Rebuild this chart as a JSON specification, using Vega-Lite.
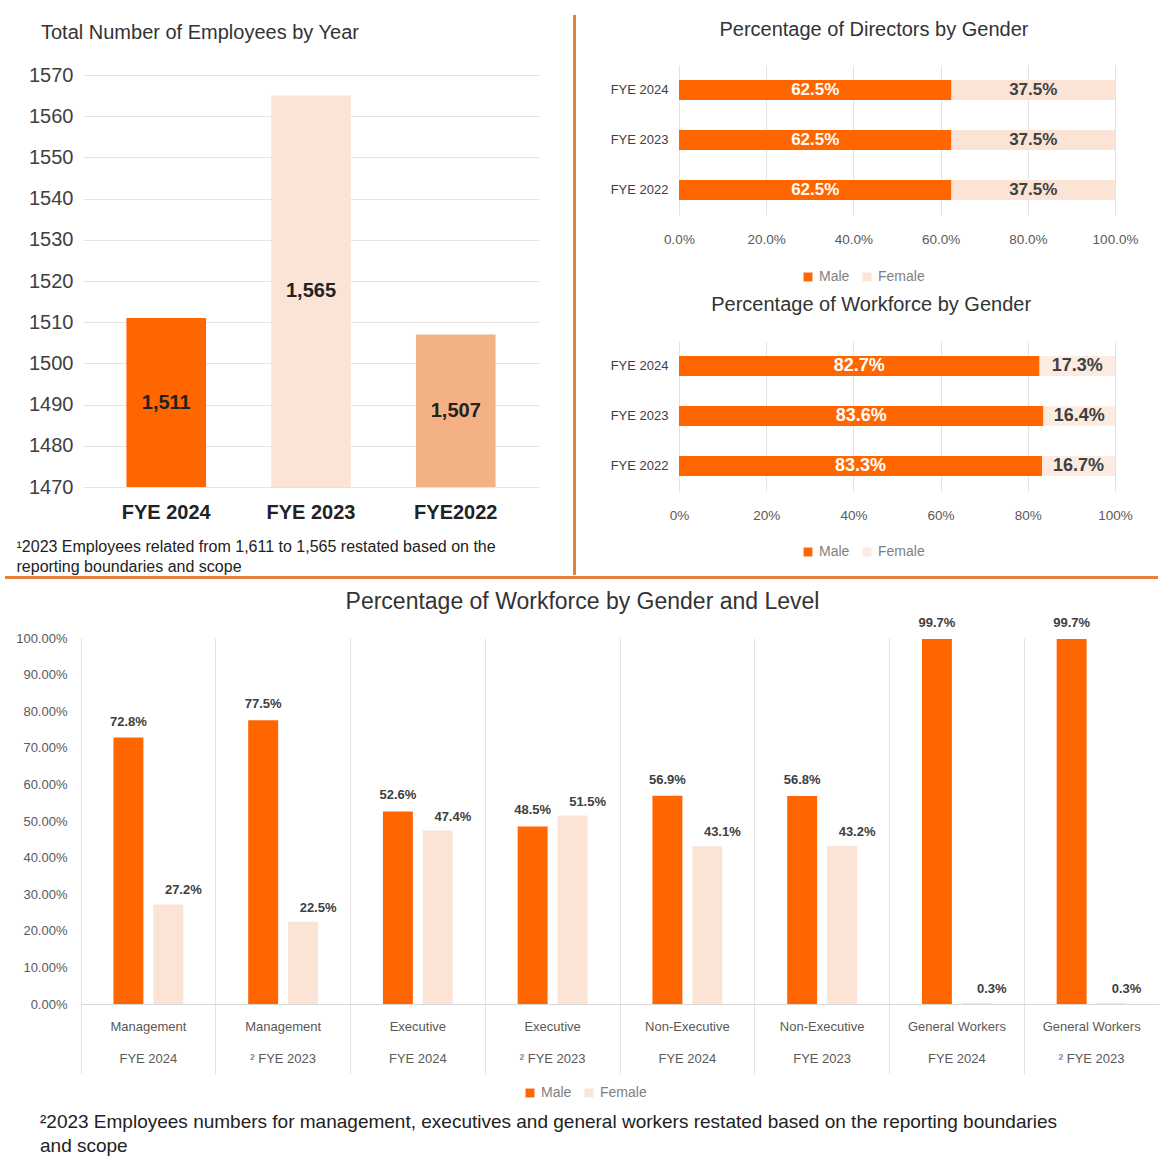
{
  "$schema": "https://vega.github.io/schema/vega-lite/v6.json",
  "background": "white",
  "padding": {"left": 5, "top": 14, "right": 5, "bottom": 5},
  "config": {
    "font": "Liberation Sans",
    "view": {"stroke": null},
    "axis": {"domain": false, "ticks": false, "labelColor": "#595959", "gridColor": "#E3E3E3", "title": null},
    "legend": {"labelColor": "#7F7F7F", "labelFontSize": 14, "symbolType": "square", "symbolSize": 80, "title": null, "direction": "horizontal"},
    "title": {"color": "#333333", "fontWeight": "normal"}
  },
  "resolve": {"scale": {"color": "independent"}, "legend": {"color": "independent"}},
  "columns": 1,
  "align": "none",
  "spacing": 12,
  "concat": [
    {
      "columns": 1,
      "align": "none",
      "spacing": 1,
      "resolve": {"scale": {"color": "independent"}, "legend": {"color": "independent"}},
      "concat": [
        {
          "columns": 2,
          "align": "none",
          "spacing": 0,
          "resolve": {"scale": {"color": "independent"}, "legend": {"color": "independent"}},
          "concat": [
            {"width": 1, "height": 1, "data": {"values": [{"k": 1}]}, "mark": {"type": "rect", "opacity": 0}, "encoding": {}},
            {
              "columns": 3,
              "align": "none",
              "spacing": {"row": 0, "column": 34},
              "resolve": {"scale": {"color": "independent"}, "legend": {"color": "independent"}},
              "concat": [
                {"width": 1, "height": 1, "data": {"values": [{"k": 1}]}, "mark": {"type": "rect", "opacity": 0}, "encoding": {}},
                {"width": 1, "height": 1, "data": {"values": [{"k": 1}]}, "mark": {"type": "rect", "opacity": 0}, "encoding": {}},
                {"width": 1, "height": 1, "data": {"values": [{"k": 1}]}, "mark": {"type": "rect", "opacity": 0}, "encoding": {}},
                {
                  "width": 456,
                  "height": 412,
                  "title": {"text": ["", "Total Number of Employees by Year"], "lineHeight": 8, "anchor": "start", "frame": "group", "dx": -42, "fontSize": 20, "offset": 22},
                  "data": {"values": [
                    {"year": "FYE 2024", "employees": 1511},
                    {"year": "FYE 2023", "employees": 1565},
                    {"year": "FYE2022", "employees": 1507}
                  ]},
                  "encoding": {
                    "x": {"field": "year", "type": "nominal", "sort": null,
                      "scale": {"paddingInner": 0.45, "paddingOuter": 0.3},
                      "axis": {"labelAngle": 0, "labelFontSize": 20, "labelFontWeight": "bold", "labelColor": "#222222", "labelPadding": 15,
                        "title": ["¹2023 Employees related from 1,611 to 1,565 restated based on the", "reporting boundaries and scope"],
                        "titleFontSize": 16, "titleFontWeight": "normal", "titleColor": "#222222", "titleAlign": "left", "titleAnchor": "start",
                        "titleX": -67, "titleY": 51, "titleBaseline": "top", "titleLineHeight": 20}}
                  },
                  "layer": [
                    {
                      "mark": {"type": "bar", "clip": true},
                      "encoding": {
                        "y": {"field": "employees", "type": "quantitative",
                          "scale": {"domain": [1470, 1570], "zero": false, "nice": false},
                          "axis": {"values": [1470, 1480, 1490, 1500, 1510, 1520, 1530, 1540, 1550, 1560, 1570], "format": "d", "grid": true, "labelFontSize": 20, "labelColor": "#404040", "labelPadding": 10, "minExtent": 77, "maxExtent": 77}},
                        "color": {"field": "year", "type": "nominal", "scale": {"domain": ["FYE 2024", "FYE 2023", "FYE2022"], "range": ["#FF6600", "#FBE3D6", "#F4B183"]}, "legend": null}
                      }
                    },
                    {
                      "transform": [{"calculate": "(datum.employees + 1470) / 2", "as": "mid"}],
                      "mark": {"type": "text", "fontSize": 20, "fontWeight": "bold", "color": "#222222"},
                      "encoding": {
                        "y": {"field": "mid", "type": "quantitative"},
                        "text": {"field": "employees", "type": "quantitative", "format": ","}
                      }
                    }
                  ]
                },
                {
                  "width": 3,
                  "height": 560,
                  "data": {"values": [{"k": 1}]},
                  "mark": {"type": "rect", "color": "#E8803C"},
                  "encoding": {}
                },
                {
                  "columns": 1,
                  "spacing": 11,
                  "resolve": {"scale": {"color": "independent"}, "legend": {"color": "independent"}},
                  "concat": [
                    {
                      "width": 436,
                      "height": 150,
                      "title": {"text": ["", "Percentage of Directors by Gender"], "lineHeight": 5, "anchor": "middle", "frame": "bounds", "fontSize": 20, "offset": 25},
                      "data": {"values": [
                        {"year": "FYE 2024", "gender": "Male", "share": 0.625, "rank": 1},
                        {"year": "FYE 2024", "gender": "Female", "share": 0.375, "rank": 2},
                        {"year": "FYE 2023", "gender": "Male", "share": 0.625, "rank": 1},
                        {"year": "FYE 2023", "gender": "Female", "share": 0.375, "rank": 2},
                        {"year": "FYE 2022", "gender": "Male", "share": 0.625, "rank": 1},
                        {"year": "FYE 2022", "gender": "Female", "share": 0.375, "rank": 2}
                      ]},
                      "encoding": {
                        "y": {"field": "year", "type": "nominal", "sort": ["FYE 2024", "FYE 2023", "FYE 2022"],
                          "scale": {"paddingInner": 0.6, "paddingOuter": 0.3},
                          "axis": {"labelFontSize": 13, "labelColor": "#404040", "labelPadding": 11, "minExtent": 69, "maxExtent": 69}},
                        "order": {"field": "rank", "type": "quantitative"}
                      },
                      "layer": [
                        {
                          "mark": "bar",
                          "encoding": {
                            "x": {"field": "share", "type": "quantitative", "stack": "zero",
                              "scale": {"domain": [0, 1], "nice": false},
                              "axis": {"values": [0, 0.2, 0.4, 0.6, 0.8, 1], "format": ".1%", "grid": true, "labelFlush": false, "labelFontSize": 13.5, "labelPadding": 17}},
                            "color": {"field": "gender", "type": "nominal", "scale": {"domain": ["Male", "Female"], "range": ["#FF6600", "#FBE3D6"]},
                              "legend": {"orient": "none", "legendX": 122, "legendY": 205}}
                          }
                        },
                        {
                          "mark": {"type": "text", "fontSize": 17, "fontWeight": "bold"},
                          "encoding": {
                            "x": {"field": "share", "type": "quantitative", "stack": "zero", "bandPosition": 0.5},
                            "detail": {"field": "gender"},
                            "text": {"field": "share", "type": "quantitative", "format": ".1%"},
                            "color": {"condition": {"test": "datum.gender === 'Male'", "value": "white"}, "value": "#404040"}
                          }
                        }
                      ]
                    },
                    {
                      "width": 436,
                      "height": 150,
                      "title": {"text": "Percentage of Workforce by Gender", "anchor": "middle", "frame": "bounds", "fontSize": 20, "offset": 26},
                      "data": {"values": [
                        {"year": "FYE 2024", "gender": "Male", "share": 0.827, "rank": 1},
                        {"year": "FYE 2024", "gender": "Female", "share": 0.173, "rank": 2},
                        {"year": "FYE 2023", "gender": "Male", "share": 0.836, "rank": 1},
                        {"year": "FYE 2023", "gender": "Female", "share": 0.164, "rank": 2},
                        {"year": "FYE 2022", "gender": "Male", "share": 0.833, "rank": 1},
                        {"year": "FYE 2022", "gender": "Female", "share": 0.167, "rank": 2}
                      ]},
                      "encoding": {
                        "y": {"field": "year", "type": "nominal", "sort": ["FYE 2024", "FYE 2023", "FYE 2022"],
                          "scale": {"paddingInner": 0.6, "paddingOuter": 0.3},
                          "axis": {"labelFontSize": 13, "labelColor": "#404040", "labelPadding": 11, "minExtent": 69, "maxExtent": 69}},
                        "order": {"field": "rank", "type": "quantitative"}
                      },
                      "layer": [
                        {
                          "mark": "bar",
                          "encoding": {
                            "x": {"field": "share", "type": "quantitative", "stack": "zero",
                              "scale": {"domain": [0, 1], "nice": false},
                              "axis": {"values": [0, 0.2, 0.4, 0.6, 0.8, 1], "format": ".0%", "grid": true, "labelFlush": false, "labelFontSize": 13.5, "labelPadding": 17}},
                            "color": {"field": "gender", "type": "nominal", "scale": {"domain": ["Male", "Female"], "range": ["#FF6600", "#FCEBE0"]},
                              "legend": {"orient": "none", "legendX": 122, "legendY": 204}}
                          }
                        },
                        {
                          "mark": {"type": "text", "fontSize": 18, "fontWeight": "bold"},
                          "encoding": {
                            "x": {"field": "share", "type": "quantitative", "stack": "zero", "bandPosition": 0.5},
                            "detail": {"field": "gender"},
                            "text": {"field": "share", "type": "quantitative", "format": ".1%"},
                            "color": {"condition": {"test": "datum.gender === 'Male'", "value": "white"}, "value": "#404040"}
                          }
                        }
                      ]
                    }
                  ]
                }
              ]
            }
          ]
        },
        {
          "width": 1153,
          "height": 3,
          "data": {"values": [{"k": 1}]},
          "mark": {"type": "rect", "color": "#E8803C"},
          "encoding": {}
        }
      ]
    },
    {
      "columns": 2,
      "align": "none",
      "spacing": 0,
      "resolve": {"scale": {"color": "independent"}, "legend": {"color": "independent"}},
      "concat": [
        {"width": 1, "height": 1, "data": {"values": [{"k": 1}]}, "mark": {"type": "rect", "opacity": 0}, "encoding": {}},
        {
          "columns": 1,
          "title": {"text": ["²2023 Employees numbers for management, executives and general workers restated based on the reporting boundaries", "and scope"], "orient": "bottom", "anchor": "start", "frame": "bounds", "dx": 34, "fontSize": 19, "lineHeight": 24, "color": "#222222", "offset": 13},
          "resolve": {"scale": {"color": "independent"}, "legend": {"color": "independent"}},
          "concat": [
            {
              "width": 1078,
              "height": 366,
              "title": {"text": "Percentage of Workforce by Gender and Level", "anchor": "middle", "frame": "bounds", "fontSize": 23, "offset": 3},
              "data": {"values": [
                {"level": "Management|FYE 2024", "gender": "Male", "share": 0.728},
                {"level": "Management|FYE 2024", "gender": "Female", "share": 0.272},
                {"level": "Management|² FYE 2023", "gender": "Male", "share": 0.775},
                {"level": "Management|² FYE 2023", "gender": "Female", "share": 0.225},
                {"level": "Executive|FYE 2024", "gender": "Male", "share": 0.526},
                {"level": "Executive|FYE 2024", "gender": "Female", "share": 0.474},
                {"level": "Executive|² FYE 2023", "gender": "Male", "share": 0.485},
                {"level": "Executive|² FYE 2023", "gender": "Female", "share": 0.515},
                {"level": "Non-Executive|FYE 2024", "gender": "Male", "share": 0.569},
                {"level": "Non-Executive|FYE 2024", "gender": "Female", "share": 0.431},
                {"level": "Non-Executive|FYE 2023", "gender": "Male", "share": 0.568},
                {"level": "Non-Executive|FYE 2023", "gender": "Female", "share": 0.432},
                {"level": "General Workers|FYE 2024", "gender": "Male", "share": 0.997},
                {"level": "General Workers|FYE 2024", "gender": "Female", "share": 0.003},
                {"level": "General Workers|² FYE 2023", "gender": "Male", "share": 0.997},
                {"level": "General Workers|² FYE 2023", "gender": "Female", "share": 0.003}
              ]},
              "encoding": {
                "x": {"field": "level", "type": "nominal", "sort": null,
                  "scale": {"paddingInner": 0, "paddingOuter": 0},
                  "axis": {"labelExpr": "split(datum.label, '|')", "labelAngle": 0, "labelFontSize": 13, "labelColor": "#595959", "labelLineHeight": 32,
                    "grid": true, "bandPosition": 0, "ticks": true, "tickSize": 70, "tickColor": "#E3E3E3", "labelPadding": -54,
                    "domain": true, "domainColor": "#D9D9D9"}},
                "xOffset": {"field": "gender", "type": "nominal", "sort": ["Male", "Female"], "scale": {"paddingInner": 0.25, "paddingOuter": 0.8125}},
                "y": {"field": "share", "type": "quantitative", "scale": {"domain": [0, 1], "nice": false},
                  "axis": {"values": [0, 0.1, 0.2, 0.3, 0.4, 0.5, 0.6, 0.7, 0.8, 0.9, 1], "format": ".2%", "grid": false, "labelFontSize": 13, "labelColor": "#595959", "labelPadding": 14, "minExtent": 75, "maxExtent": 75}}
              },
              "layer": [
                {
                  "mark": "bar",
                  "encoding": {
                    "color": {"field": "gender", "type": "nominal", "scale": {"domain": ["Male", "Female"], "range": ["#FF6600", "#FBE3D6"]},
                      "legend": {"orient": "none", "legendX": 442, "legendY": 448}}
                  }
                },
                {
                  "transform": [{"filter": "datum.gender === 'Male'"}],
                  "mark": {"type": "text", "fontSize": 13, "fontWeight": "bold", "color": "#404040", "dy": -16},
                  "encoding": {"text": {"field": "share", "type": "quantitative", "format": ".1%"}}
                },
                {
                  "transform": [{"filter": "datum.gender === 'Female'"}],
                  "mark": {"type": "text", "fontSize": 13, "fontWeight": "bold", "color": "#404040", "dy": -14, "dx": 15},
                  "encoding": {"text": {"field": "share", "type": "quantitative", "format": ".1%"}}
                }
              ]
            }
          ]
        }
      ]
    }
  ]
}
